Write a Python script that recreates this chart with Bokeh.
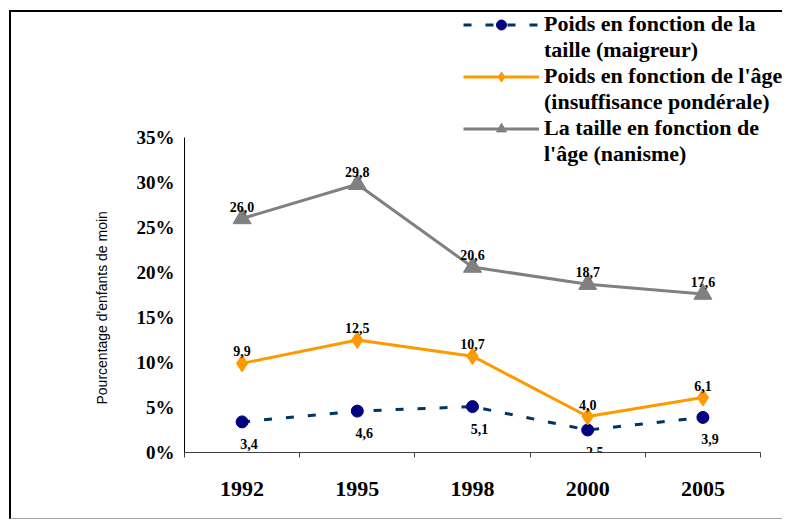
import numpy as np
from bokeh.plotting import figure
from bokeh.layouts import column
from bokeh.models import (ColumnDataSource, Range1d, FixedTicker, NumeralTickFormatter,
                          LabelSet, Legend, LegendItem, Title)
from bokeh.core.properties import value
from bokeh.embed import file_html
from bokeh.resources import INLINE

# ---- data ----
years = ["1992", "1995", "1998", "2000", "2005"]
maigreur = [3.4, 4.6, 5.1, 2.5, 3.9]          # Poids en fonction de la taille
insuffisance = [9.9, 12.5, 10.7, 4.0, 6.1]    # Poids en fonction de l'âge
nanisme = [26.0, 29.8, 20.6, 18.7, 17.6]      # La taille en fonction de l'âge
y_ticks = [0, 5, 10, 15, 20, 25, 30, 35]
y_max = 35
y_title = "Pourcentage d'enfants de moin"
leg_lines = [
    ("Poids en fonction de la", "taille (maigreur)"),
    ("Poids en fonction de l'âge", "(insuffisance pondérale)"),
    ("La taille en fonction de", "l'âge (nanisme)"),
]

# ---- geometry (pixels) ----
W, H = 771, 506
F_LEFT = 173
F_RIGHT = 0
F_BOTTOM = H - 440
AX_H = 315                          # pixel height of 0..35 %
CAT_W = 115.2                       # pixel width of one category
frame_h = H - F_BOTTOM
frame_w = W - F_LEFT - F_RIGHT
y_end = (y_max / 100) * frame_h / AX_H
x_end = frame_w / CAT_W

p = figure(width=W, height=H, output_backend="svg", toolbar_location=None,
           x_range=Range1d(0, x_end), y_range=Range1d(0, y_end),
           min_border_left=F_LEFT, min_border_right=F_RIGHT, min_border_top=0,
           min_border_bottom=F_BOTTOM)
p.outline_line_color = None
p.xgrid.visible = False
p.ygrid.visible = False
p.background_fill_color = "white"
p.border_fill_color = "white"

xc = (np.arange(len(years)) + 0.5).tolist()

def src(vals):
    return ColumnDataSource(dict(x=xc, y=[v / 100 for v in vals],
                                 lbl=[f"{v:.1f}".replace(".", ",") for v in vals]))

s_b, s_o, s_g = src(maigreur), src(insuffisance), src(nanisme)

blue_line = p.line("x", "y", source=s_b, line_color="#003366", line_width=3, line_dash="8 14")
blue_pt = p.scatter("x", "y", source=s_b, marker="circle", size=12, fill_color="#000080", line_color="#000080")
or_line = p.line("x", "y", source=s_o, line_color="#FF9900", line_width=3)
or_pt = p.scatter("x", "y", source=s_o, marker="diamond", size=17, fill_color="#FF9900", line_color="#FF9900")
gr_line = p.line("x", "y", source=s_g, line_color="#808080", line_width=3)
gr_pt = p.scatter("x", "y", source=s_g, marker="triangle", size=18, fill_color="#808080", line_color="#808080")

lab_kw = dict(x="x", y="y", text="lbl", text_font=value("Liberation Serif"), text_font_style="bold",
              text_font_size="14px", text_color="black", text_align="center", text_baseline="middle")
p.add_layout(LabelSet(source=s_g, y_offset=12, **lab_kw))
p.add_layout(LabelSet(source=s_o, y_offset=12, **lab_kw))
p.add_layout(LabelSet(source=s_b, y_offset=-22, x_offset=7, **lab_kw))

# y axis
p.yaxis.bounds = (0, y_max / 100)
p.yaxis.ticker = FixedTicker(ticks=[t / 100 for t in y_ticks])
p.yaxis.formatter = NumeralTickFormatter(format="0%")
p.yaxis.major_tick_out = 0
p.yaxis.major_tick_in = 0
p.yaxis.minor_tick_out = 0
p.yaxis.minor_tick_in = 0
p.yaxis.major_label_standoff = 10
p.yaxis.major_label_text_font = "Liberation Serif"
p.yaxis.major_label_text_font_style = "bold"
p.yaxis.major_label_text_font_size = "19px"
p.yaxis.major_label_text_color = "black"
p.yaxis.axis_line_color = "black"

# y title (vertical, placed along the 0..35 % span)
p.add_layout(Title(text=y_title, align="left", offset=48, standoff=47,
                   text_font="Liberation Sans", text_font_style="normal",
                   text_font_size="14px", text_color="black"), "left")

# x axis: labels at category centres, ticks at boundaries (minor ticks)
p.xaxis.bounds = (0, len(years))
p.xaxis.ticker = FixedTicker(ticks=xc, minor_ticks=list(range(len(years) + 1)))
p.xaxis.major_label_overrides = {x: y for x, y in zip(xc, years)}
p.xaxis.major_tick_out = 0
p.xaxis.major_tick_in = 0
p.xaxis.minor_tick_out = 5
p.xaxis.minor_tick_in = 0
p.xaxis.minor_tick_line_color = "#404040"
p.xaxis.axis_line_color = "#404040"
p.xaxis.major_label_standoff = 24
p.xaxis.major_label_text_font = "Liberation Serif"
p.xaxis.major_label_text_font_style = "bold"
p.xaxis.major_label_text_font_size = "22px"
p.xaxis.major_label_text_color = "black"

# legend (two text rows per series)
items = [
    LegendItem(label=leg_lines[0][0], renderers=[blue_line, blue_pt]),
    LegendItem(label=leg_lines[0][1], renderers=[]),
    LegendItem(label=leg_lines[1][0], renderers=[or_line, or_pt]),
    LegendItem(label=leg_lines[1][1], renderers=[]),
    LegendItem(label=leg_lines[2][0], renderers=[gr_line, gr_pt]),
    LegendItem(label=leg_lines[2][1], renderers=[]),
]
legend = Legend(items=items, location=(279, frame_h - 155), padding=0, margin=0, spacing=0,
                glyph_width=76, glyph_height=25, label_height=25, label_standoff=5,
                border_line_color=None, background_fill_alpha=0,
                label_text_font="Liberation Serif", label_text_font_style="bold",
                label_text_font_size="22px", label_text_color="black")
p.add_layout(legend, "center")

# outer chart border (left / top / bottom as in the reference)
lay = column(p, styles={"margin-left": "9px", "margin-top": "10px",
                        "border-left": "2px solid black", "border-top": "2px solid black",
                        "border-bottom": "1px solid #a0a0a0"})

open("out.html", "w").write(file_html(lay, INLINE))
